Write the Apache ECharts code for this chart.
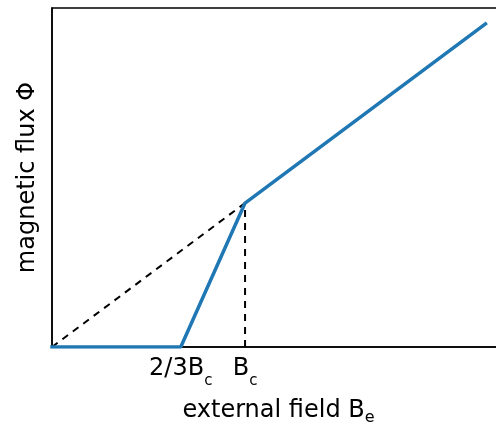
<!DOCTYPE html>
<html>
<head>
<meta charset="utf-8">
<script src="https://cdn.jsdelivr.net/npm/echarts@6/dist/echarts.min.js"></script>
<style>html,body{margin:0;padding:0;background:#fff}#c{width:496px;height:423px}</style>
</head>
<body>
<div id="c"></div>
<script>
// Data (units of Bc)
const fieldB = [0, 0.667, 1, 2.245];
const fluxPhi = [0, 0, 1, 2.245];
const dashDiagX = [0, 1];
const dashDiagY = [0, 1];
const dashVertX = [1, 1];
const dashVertY = [0, 1];
const tickValues = [0.667, 1];
const tickLabels = ['{m|2/3B}{s|c}', '{m|B}{s|c}'];
const xName = '{m|external field B}{s|e}';
const yName = 'magnetic flux Φ';

const FONT = 'DejaVu Sans';
const tickRich = {
  m: {fontFamily: FONT, fontSize: 24, lineHeight: 28, color: '#000'},
  s: {fontFamily: FONT, fontSize: 15, height: 4, lineHeight: 4, verticalAlign: 'bottom', color: '#000'}
};
const nameRich = {
  m: {fontFamily: FONT, fontSize: 24, lineHeight: 28, color: '#000'},
  s: {fontFamily: FONT, fontSize: 16, height: 14, lineHeight: 14, verticalAlign: 'bottom', color: '#000'}
};

const chart = echarts.init(document.getElementById('c'), null, {renderer: 'canvas'});
chart.setOption({
  animation: false,
  backgroundColor: '#fff',
  grid: {left: 52, top: 8, right: -1, bottom: 76, containLabel: false, outerBoundsMode: 'none',
         show: true, borderColor: '#000', borderWidth: 1.5, backgroundColor: 'transparent'},
  xAxis: {
    type: 'value', min: 0, max: 2.305,
    axisLine: {show: true, onZero: false, lineStyle: {color: '#000', width: 1.5}},
    axisTick: {show: false},
    splitLine: {show: false},
    axisLabel: {
      customValues: tickValues,
      margin: 8,
      formatter: function (v) {
        const i = tickValues.findIndex(t => Math.abs(t - v) < 1e-6);
        return i >= 0 ? tickLabels[i] : '';
      },
      rich: tickRich
    },
    name: xName, nameLocation: 'middle', nameGap: 50,
    nameTextStyle: {rich: nameRich, padding: [0, 0, 0, 8]}
  },
  yAxis: {
    type: 'value', min: 0, max: 2.355,
    axisLine: {show: true, lineStyle: {color: '#000', width: 1.5}},
    axisTick: {show: false},
    axisLabel: {show: false},
    splitLine: {show: false},
    name: yName, nameLocation: 'middle', nameGap: 12, nameRotate: 90,
    nameTextStyle: {fontFamily: FONT, fontSize: 24, color: '#000'}
  },
  series: [
    {
      type: 'line', data: dashDiagX.map((x, i) => [x, dashDiagY[i]]),
      symbol: 'none', lineStyle: {color: '#000', width: 2, type: [7, 6]}, z: 1
    },
    {
      type: 'line', data: dashVertX.map((x, i) => [x, dashVertY[i]]),
      symbol: 'none', lineStyle: {color: '#000', width: 2, type: [7, 6]}, z: 1
    },
    {
      type: 'line', data: fieldB.map((x, i) => [x, fluxPhi[i]]),
      symbol: 'none', lineStyle: {color: '#1f77b4', width: 3.5, cap: 'square'}, z: 3
    }
  ]
});
</script>
</body>
</html>
